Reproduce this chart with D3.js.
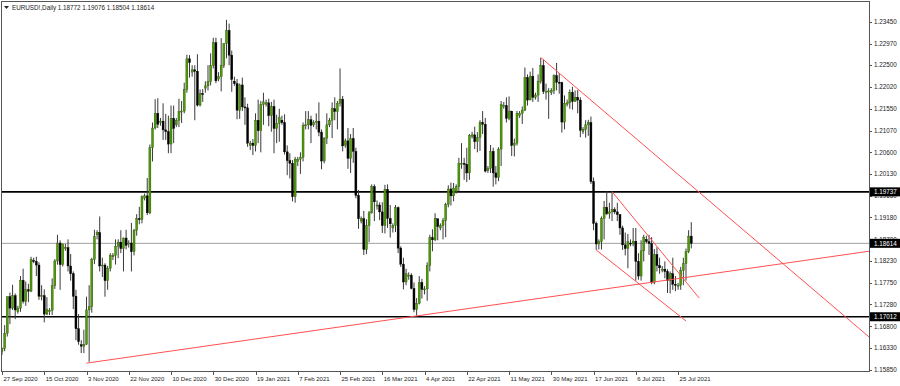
<!DOCTYPE html>
<html>
<head>
<meta charset="utf-8">
<script src="https://cdn.jsdelivr.net/npm/d3@7/dist/d3.min.js"></script>
<style>
  html, body { margin: 0; padding: 0; background: #fff; }
  svg { display: block; }
  text { font-family: "Liberation Sans", Arial, sans-serif; }
</style>
</head>
<body>
<svg id="chart" width="900" height="386"></svg>
<script>
// EURUSD!, Daily -- one row per bar [open, high, low, close], Sunday bars included
var symbol = "EURUSD!,Daily"
var firstDay = "2020-09-27"
var holidays = ["2020-12-25", "2021-01-01"]

var bars = [
  // 27 Sep
  [1.1625,1.1634,1.1618,1.1632],[1.1632,1.1683,1.1626,1.1665],[1.1665,1.1745,1.1658,1.1745],[1.1745,1.1754,1.1685,1.1720],[1.1720,1.1771,1.1716,1.1747],[1.1747,1.1752,1.1696,1.1716],
  // 4 Oct
  [1.1712,1.1725,1.1708,1.1720],[1.1720,1.1790,1.1712,1.1781],[1.1781,1.1806,1.1730,1.1735],[1.1735,1.1778,1.1725,1.1760],[1.1760,1.1773,1.1733,1.1757],[1.1757,1.1832,1.1755,1.1826],
  // 11 Oct
  [1.1824,1.1830,1.1818,1.1822],[1.1822,1.1832,1.1790,1.1814],[1.1814,1.1820,1.1738,1.1746],[1.1746,1.1770,1.1737,1.1747],[1.1747,1.1761,1.1689,1.1707],[1.1707,1.1744,1.1705,1.1717],
  // 18 Oct
  [1.1712,1.1720,1.1705,1.1715],[1.1715,1.1785,1.1705,1.1769],[1.1769,1.1827,1.1762,1.1823],[1.1823,1.1880,1.1815,1.1862],[1.1862,1.1868,1.1760,1.1815],[1.1815,1.1860,1.1811,1.1860],
  // 25 Oct
  [1.1852,1.1860,1.1845,1.1852],[1.1852,1.1870,1.1800,1.1812],[1.1812,1.1838,1.1780,1.1795],[1.1795,1.1800,1.1718,1.1746],[1.1746,1.1760,1.1650,1.1675],[1.1675,1.1707,1.1640,1.1647],
  // 1 Nov
  [1.1640,1.1650,1.1622,1.1637],[1.1637,1.1673,1.1622,1.1641],[1.1641,1.1745,1.1640,1.1716],[1.1716,1.1770,1.1603,1.1723],[1.1723,1.1830,1.1710,1.1826],[1.1826,1.1891,1.1816,1.1876],
  // 8 Nov
  [1.1880,1.1890,1.1870,1.1885],[1.1885,1.1920,1.1800,1.1812],[1.1812,1.1830,1.1788,1.1814],[1.1814,1.1818,1.1745,1.1780],[1.1780,1.1812,1.1760,1.1807],[1.1807,1.1840,1.1800,1.1835],
  // 15 Nov
  [1.1832,1.1840,1.1825,1.1835],[1.1835,1.1870,1.1815,1.1855],[1.1855,1.1870,1.1829,1.1864],[1.1864,1.1890,1.1840,1.1850],[1.1850,1.1874,1.1800,1.1873],[1.1873,1.1891,1.1848,1.1857],
  // 22 Nov
  [1.1860,1.1868,1.1852,1.1862],[1.1862,1.1906,1.1800,1.1843],[1.1843,1.1893,1.1835,1.1890],[1.1890,1.1925,1.1878,1.1915],[1.1915,1.1941,1.1903,1.1914],[1.1914,1.1966,1.1905,1.1963],
  // 29 Nov
  [1.1960,1.1970,1.1955,1.1965],[1.1965,1.2004,1.1923,1.1928],[1.1928,1.2077,1.1925,1.2070],[1.2070,1.2125,1.2040,1.2113],[1.2113,1.2176,1.2110,1.2145],[1.2145,1.2178,1.2113,1.2121],
  // 6 Dec
  [1.2125,1.2135,1.2118,1.2128],[1.2128,1.2167,1.2087,1.2109],[1.2109,1.2144,1.2087,1.2105],[1.2105,1.2140,1.2058,1.2078],[1.2078,1.2162,1.2058,1.2134],[1.2134,1.2162,1.2080,1.2112],
  // 13 Dec
  [1.2120,1.2135,1.2115,1.2130],[1.2130,1.2177,1.2115,1.2149],[1.2149,1.2172,1.2124,1.2150],[1.2150,1.2212,1.2145,1.2197],[1.2197,1.2273,1.2190,1.2264],[1.2264,1.2272,1.2223,1.2256],
  // 20 Dec
  [1.2235,1.2250,1.2225,1.2240],[1.2240,1.2250,1.2130,1.2237],[1.2237,1.2274,1.2160,1.2163],[1.2163,1.2197,1.2160,1.2188],[1.2188,1.2198,1.2170,1.2187],
  // 27 Dec
  [1.2200,1.2215,1.2190,1.2205],[1.2205,1.2250,1.2195,1.2214],[1.2214,1.2276,1.2206,1.2250],[1.2250,1.2310,1.2243,1.2299],[1.2299,1.2310,1.2211,1.2216],
  // 3 Jan
  [1.2220,1.2235,1.2215,1.2225],[1.2225,1.2309,1.2193,1.2250],[1.2250,1.2298,1.2244,1.2297],[1.2297,1.2349,1.2265,1.2326],[1.2326,1.2341,1.2250,1.2272],[1.2272,1.2282,1.2192,1.2219],
  // 10 Jan
  [1.2215,1.2225,1.2205,1.2210],[1.2210,1.2220,1.2132,1.2152],[1.2152,1.2210,1.2133,1.2207],[1.2207,1.2223,1.2150,1.2159],[1.2159,1.2180,1.2120,1.2157],[1.2157,1.2166,1.2072,1.2080],
  // 17 Jan
  [1.2075,1.2085,1.2065,1.2080],[1.2080,1.2089,1.2054,1.2075],[1.2075,1.2145,1.2062,1.2130],[1.2130,1.2175,1.2080,1.2107],[1.2107,1.2172,1.2060,1.2164],[1.2164,1.2190,1.2120,1.2170],
  // 24 Jan
  [1.2165,1.2175,1.2160,1.2168],[1.2168,1.2177,1.2117,1.2140],[1.2140,1.2170,1.2105,1.2160],[1.2160,1.2175,1.2058,1.2112],[1.2112,1.2142,1.2080,1.2123],[1.2123,1.2155,1.2083,1.2136],
  // 31 Jan
  [1.2130,1.2140,1.2120,1.2125],[1.2125,1.2143,1.2055,1.2061],[1.2061,1.2075,1.2010,1.2042],[1.2042,1.2058,1.2003,1.2036],[1.2036,1.2043,1.1953,1.1963],[1.1963,1.2050,1.1950,1.2045],
  // 7 Feb
  [1.2040,1.2050,1.2030,1.2045],[1.2045,1.2060,1.2013,1.2049],[1.2049,1.2125,1.2040,1.2119],[1.2119,1.2150,1.2110,1.2120],[1.2120,1.2150,1.2110,1.2131],[1.2131,1.2140,1.2080,1.2119],
  // 14 Feb
  [1.2120,1.2130,1.2115,1.2125],[1.2125,1.2145,1.2110,1.2128],[1.2128,1.2169,1.2095,1.2104],[1.2104,1.2110,1.2023,1.2041],[1.2041,1.2093,1.2036,1.2091],[1.2091,1.2145,1.2078,1.2120],
  // 21 Feb
  [1.2120,1.2135,1.2115,1.2130],[1.2130,1.2169,1.2091,1.2155],[1.2155,1.2180,1.2130,1.2149],[1.2149,1.2172,1.2110,1.2167],[1.2167,1.2243,1.2160,1.2176],[1.2176,1.2183,1.2062,1.2074],
  // 28 Feb
  [1.2075,1.2090,1.2070,1.2085],[1.2085,1.2113,1.2024,1.2047],[1.2047,1.2100,1.2015,1.2090],[1.2090,1.2113,1.2037,1.2062],[1.2062,1.2070,1.1960,1.1966],[1.1966,1.1978,1.1893,1.1915],
  // 7 Mar
  [1.1910,1.1920,1.1905,1.1915],[1.1915,1.1932,1.1836,1.1848],[1.1848,1.1914,1.1838,1.1900],[1.1900,1.1932,1.1864,1.1928],[1.1928,1.1990,1.1926,1.1985],[1.1985,1.1990,1.1910,1.1952],
  // 14 Mar
  [1.1945,1.1955,1.1935,1.1945],[1.1945,1.1951,1.1912,1.1930],[1.1930,1.1951,1.1884,1.1900],[1.1900,1.1989,1.1883,1.1979],[1.1979,1.1990,1.1895,1.1916],[1.1916,1.1945,1.1874,1.1904],
  // 21 Mar
  [1.1895,1.1905,1.1885,1.1900],[1.1900,1.1945,1.1886,1.1939],[1.1939,1.1942,1.1840,1.1851],[1.1851,1.1855,1.1810,1.1816],[1.1816,1.1830,1.1761,1.1777],[1.1777,1.1806,1.1770,1.1795],
  // 28 Mar
  [1.1790,1.1798,1.1782,1.1792],[1.1792,1.1796,1.1761,1.1763],[1.1763,1.1776,1.1711,1.1717],[1.1717,1.1742,1.1704,1.1730],[1.1730,1.1790,1.1728,1.1776],[1.1776,1.1784,1.1741,1.1761],
  // 4 Apr
  [1.1760,1.1768,1.1750,1.1762],[1.1762,1.1820,1.1736,1.1813],[1.1813,1.1880,1.1800,1.1874],[1.1874,1.1892,1.1844,1.1869],[1.1869,1.1927,1.1866,1.1915],[1.1915,1.1915,1.1868,1.1898],
  // 11 Apr
  [1.1895,1.1905,1.1890,1.1900],[1.1900,1.1917,1.1870,1.1911],[1.1911,1.1950,1.1875,1.1946],[1.1946,1.1988,1.1940,1.1980],[1.1980,1.1994,1.1944,1.1965],[1.1965,1.1993,1.1953,1.1982],
  // 18 Apr
  [1.1975,1.1990,1.1970,1.1985],[1.1985,1.2048,1.1974,1.2036],[1.2036,1.2080,1.2024,1.2036],[1.2036,1.2048,1.2000,1.2034],[1.2034,1.2070,1.1995,1.2015],[1.2015,1.2100,1.2000,1.2097],
  // 25 Apr
  [1.2095,1.2105,1.2090,1.2098],[1.2098,1.2116,1.2067,1.2083],[1.2083,1.2104,1.2060,1.2092],[1.2092,1.2130,1.2063,1.2125],[1.2125,1.2150,1.2100,1.2121],[1.2121,1.2135,1.2016,1.2019],
  // 2 May
  [1.2020,1.2030,1.2015,1.2025],[1.2025,1.2076,1.2015,1.2062],[1.2062,1.2070,1.1985,1.2015],[1.2015,1.2030,1.1990,1.2005],[1.2005,1.2071,1.1997,1.2067],[1.2067,1.2172,1.2030,1.2164],
  // 9 May
  [1.2160,1.2170,1.2155,1.2162],[1.2162,1.2180,1.2125,1.2134],[1.2134,1.2182,1.2130,1.2150],[1.2150,1.2150,1.2052,1.2075],[1.2075,1.2090,1.2051,1.2080],[1.2080,1.2150,1.2075,1.2145],
  // 16 May
  [1.2140,1.2150,1.2135,1.2145],[1.2145,1.2160,1.2122,1.2152],[1.2152,1.2245,1.2150,1.2223],[1.2223,1.2230,1.2162,1.2174],[1.2174,1.2236,1.2175,1.2226],[1.2226,1.2244,1.2170,1.2180],
  // 23 May
  [1.2180,1.2190,1.2175,1.2185],[1.2185,1.2230,1.2170,1.2215],[1.2215,1.2266,1.2210,1.2249],[1.2249,1.2262,1.2187,1.2193],[1.2193,1.2210,1.2175,1.2193],[1.2193,1.2200,1.2133,1.2194],
  // 30 May
  [1.2190,1.2200,1.2185,1.2195],[1.2195,1.2230,1.2187,1.2227],[1.2227,1.2255,1.2195,1.2213],[1.2213,1.2233,1.2188,1.2212],[1.2212,1.2214,1.2103,1.2126],[1.2126,1.2184,1.2110,1.2167],
  // 6 Jun
  [1.2165,1.2175,1.2160,1.2168],[1.2168,1.2197,1.2155,1.2191],[1.2191,1.2203,1.2153,1.2171],[1.2171,1.2195,1.2170,1.2180],[1.2180,1.2196,1.2145,1.2174],[1.2174,1.2180,1.2093,1.2108],
  // 13 Jun
  [1.2105,1.2115,1.2100,1.2110],[1.2110,1.2130,1.2092,1.2120],[1.2120,1.2131,1.2096,1.2125],[1.2125,1.2138,1.1991,1.1996],[1.1996,1.2005,1.1890,1.1905],[1.1905,1.1909,1.1847,1.1860],
  // 20 Jun
  [1.1860,1.1870,1.1848,1.1865],[1.1865,1.1920,1.1848,1.1916],[1.1916,1.1954,1.1870,1.1940],[1.1940,1.1975,1.1923,1.1926],[1.1926,1.1950,1.1915,1.1930],[1.1930,1.1975,1.1910,1.1936],
  // 27 Jun
  [1.1935,1.1940,1.1925,1.1930],[1.1930,1.1950,1.1910,1.1924],[1.1924,1.1925,1.1880,1.1895],[1.1895,1.1900,1.1847,1.1858],[1.1858,1.1885,1.1835,1.1850],[1.1850,1.1882,1.1807,1.1865],
  // 4 Jul
  [1.1862,1.1870,1.1855,1.1860],[1.1860,1.1895,1.1855,1.1866],[1.1866,1.1895,1.1780,1.1822],[1.1822,1.1840,1.1782,1.1790],[1.1790,1.1868,1.1780,1.1845],[1.1845,1.1880,1.1822,1.1875],
  // 11 Jul
  [1.1870,1.1878,1.1862,1.1865],[1.1865,1.1880,1.1836,1.1861],[1.1861,1.1875,1.1772,1.1776],[1.1776,1.1849,1.1772,1.1837],[1.1837,1.1853,1.1800,1.1813],[1.1813,1.1830,1.1795,1.1808],
  // 18 Jul
  [1.1805,1.1812,1.1798,1.1805],[1.1805,1.1822,1.1785,1.1800],[1.1800,1.1805,1.1753,1.1780],[1.1780,1.1800,1.1752,1.1795],[1.1795,1.1830,1.1760,1.1772],[1.1772,1.1790,1.1757,1.1771],
  // 25 Jul
  [1.1768,1.1775,1.1760,1.1770],[1.1770,1.1810,1.1760,1.1802],[1.1802,1.1830,1.1770,1.1817],[1.1817,1.1850,1.1780,1.1843],[1.1843,1.1890,1.1840,1.1877],[1.18772,1.19076,1.18504,1.18614]
]

var priceTicks = [1.23450, 1.22970, 1.22500, 1.22020, 1.21550, 1.21070, 1.20600, 1.20130, 1.19650,
                  1.19180, 1.18700, 1.18230, 1.17750, 1.17280, 1.16800, 1.16330, 1.15850]
var levels = [1.19737, 1.17012]
var bid = 1.18614
// trend lines as [barIndex, price] anchor pairs
var trendLines = [
  {a: [32, 1.16000], b: [157, 1.17030], ray: true},
  {a: [204, 1.22670], b: [300, 1.17960], ray: true},
  {a: [231, 1.19741], b: [264, 1.17420], ray: false},
  {a: [225, 1.18469], b: [259, 1.16919], ray: false}
]
var labelEvery = 16

var drawChart = function() {
  var svg = d3.select("#chart")
  var plotL = 2, plotR = 869, plotT = 2, plotB = 371
  var fs = 6.3

  // calendar of bars: Sunday..Friday, no holidays
  var parse = d3.timeParse("%Y-%m-%d")
  var fmtKey = d3.timeFormat("%Y-%m-%d")
  var dates = []
  var day = parse(firstDay)
  while (dates.length < bars.length) {
    if (day.getDay() != 6 && holidays.indexOf(fmtKey(day)) < 0) dates.push(day)
    day = d3.timeDay.offset(day, 1)
  }

  var x = d3.scaleLinear().domain([0, 328.3]).range([plotL, plotR])
  var y = d3.scaleLinear().domain([1.15850, 1.23450]).range([370, 21.7])
  var f5 = d3.format(".5f")

  svg.append("defs").append("clipPath").attr("id", "plot")
    .append("rect").attr("x", plotL).attr("y", plotT)
    .attr("width", plotR - plotL).attr("height", plotB - plotT)

  var plot = svg.append("g").attr("clip-path", "url(#plot)")

  // bid line
  plot.append("line")
    .attr("x1", plotL).attr("x2", plotR)
    .attr("y1", y(bid)).attr("y2", y(bid))
    .attr("stroke", "#a0a0a0").attr("stroke-width", 1)

  // horizontal levels
  plot.selectAll("line.level").data(levels).enter().append("line")
    .attr("class", "level")
    .attr("x1", plotL).attr("x2", plotR)
    .attr("y1", function(d) { return y(d) }).attr("y2", function(d) { return y(d) })
    .attr("stroke", "#000").attr("stroke-width", 1.6)

  // candles
  var candle = plot.selectAll("g.bar").data(bars).enter().append("g").attr("class", "bar")
  candle.append("line")
    .attr("x1", function(d, i) { return x(i) }).attr("x2", function(d, i) { return x(i) })
    .attr("y1", function(d) { return y(d[1]) }).attr("y2", function(d) { return y(d[2]) })
    .attr("stroke", "#3a3a3a").attr("stroke-width", 1)
  candle.append("rect")
    .attr("x", function(d, i) { return x(i) - 1 })
    .attr("width", 2)
    .attr("y", function(d) { return y(Math.max(d[0], d[3])) })
    .attr("height", function(d) { return Math.max(1, Math.abs(y(d[0]) - y(d[3]))) })
    .attr("fill", function(d) { return d[3] >= d[0] ? "#4e9a06" : "#000" })
    .attr("stroke", function(d) { return d[3] >= d[0] ? "#2f5a08" : "#000" })
    .attr("stroke-width", 0.4)

  // trend lines
  trendLines.forEach(function(t) {
    var x1 = x(t.a[0]), y1 = y(t.a[1]), x2 = x(t.b[0]), y2 = y(t.b[1])
    if (t.ray) {
      var k = (y2 - y1) / (x2 - x1)
      y2 = y1 + k * (plotR - x1)
      x2 = plotR
    }
    plot.append("line")
      .attr("x1", x1).attr("y1", y1).attr("x2", x2).attr("y2", y2)
      .attr("stroke", "#ff5050").attr("stroke-width", 1)
  })

  // frame
  svg.append("rect")
    .attr("x", plotL - 0.5).attr("y", plotT - 0.5)
    .attr("width", plotR - plotL + 1).attr("height", plotB - plotT + 1)
    .attr("fill", "none").attr("stroke", "#555").attr("stroke-width", 1)

  // price axis
  var yAxis = svg.append("g")
  yAxis.selectAll("line").data(priceTicks).enter().append("line")
    .attr("x1", plotR).attr("x2", plotR + 3)
    .attr("y1", function(d) { return Math.round(y(d)) + 0.5 })
    .attr("y2", function(d) { return Math.round(y(d)) + 0.5 })
    .attr("stroke", "#555")
  yAxis.selectAll("text").data(priceTicks).enter().append("text")
    .attr("x", plotR + 5).attr("y", function(d) { return y(d) + 2.2 })
    .attr("font-size", fs).attr("fill", "#222")
    .text(function(d) { return f5(d) })

  // boxed price labels
  var boxes = levels.concat([bid])
  var box = svg.append("g").selectAll("g").data(boxes).enter().append("g")
  box.append("rect")
    .attr("x", plotR + 1).attr("y", function(d) { return y(d) - 4.5 })
    .attr("width", 900 - plotR - 1).attr("height", 9)
    .attr("fill", "#000")
  box.append("text")
    .attr("x", plotR + 5).attr("y", function(d) { return y(d) + 2.3 })
    .attr("font-size", fs).attr("fill", "#fff")
    .text(function(d) { return f5(d) })

  // time axis
  var tickIdx = d3.range(0, bars.length, labelEvery)
  var fmtDate = d3.timeFormat("%-d %b %Y")
  var xAxis = svg.append("g")
  xAxis.selectAll("line").data(tickIdx).enter().append("line")
    .attr("x1", function(i) { return Math.round(x(i)) + 0.5 })
    .attr("x2", function(i) { return Math.round(x(i)) + 0.5 })
    .attr("y1", plotB).attr("y2", plotB + 4)
    .attr("stroke", "#555")
  xAxis.selectAll("text").data(tickIdx).enter().append("text")
    .attr("x", function(i) { return x(i) + 1.5 }).attr("y", 381)
    .attr("font-size", 6).attr("fill", "#222")
    .text(function(i) { return fmtDate(dates[i]) })

  // header
  var last = bars[bars.length - 1]
  svg.append("path").attr("d", "M4,6 L9,6 L6.5,9 Z").attr("fill", "#222")
  svg.append("text").attr("x", 12).attr("y", 10)
    .attr("font-size", fs).attr("fill", "#222")
    .text(symbol + "  " + last.map(f5).join(" "))
}

drawChart()
</script>
</body>
</html>
